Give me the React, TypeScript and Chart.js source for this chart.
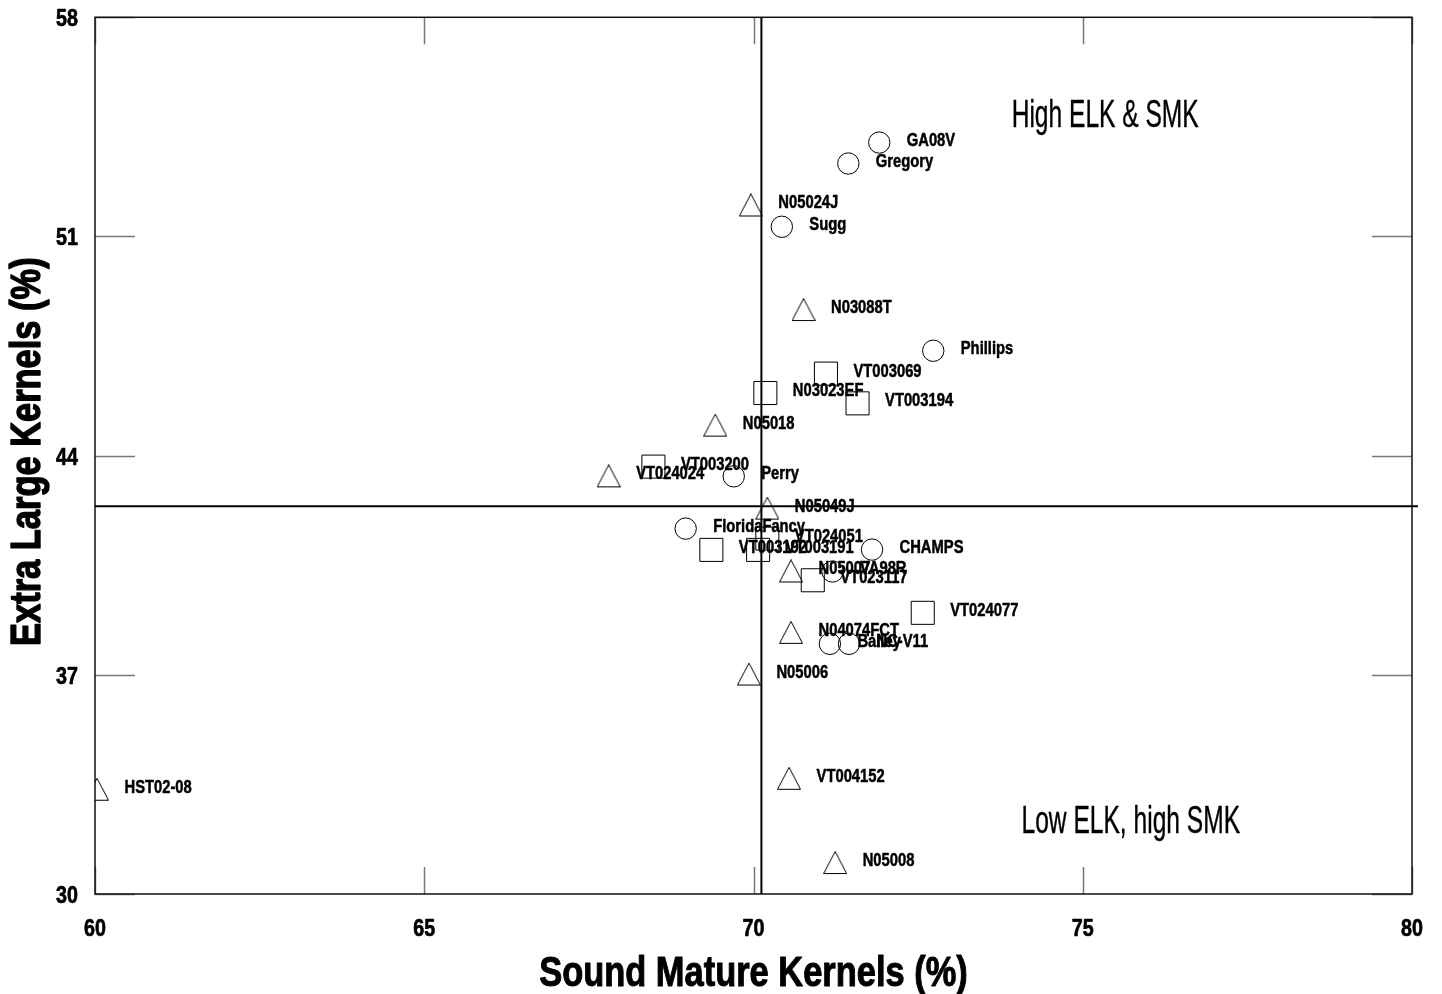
import React, { useEffect, useRef } from 'react';
import { Chart, registerables } from 'chart.js';
Chart.register(...registerables);

const FONT = "'Liberation Sans', Arial, sans-serif";
const NARROW = 0.82;

// Cultivars (circles)
const cultivarNames = ['GA08V', 'Gregory', 'Sugg', 'Phillips', 'Perry', 'FloridaFancy', 'CHAMPS', 'VA98R', 'Bailey', 'NC-V11'];
const cultivarSMK = [71.91, 71.44, 70.43, 72.73, 69.70, 68.97, 71.80, 71.20, 71.16, 71.45];
const cultivarELK = [54.00, 53.33, 51.31, 47.35, 43.34, 41.67, 41.00, 40.30, 37.99, 37.99];

// Virginia Tech lines (squares)
const vtNames = ['VT003069', 'N03023EF', 'VT003194', 'VT003200', 'VT024051', 'VT003192', 'VT003191', 'VT023117', 'VT024077'];
const vtSMK = [71.10, 70.18, 71.58, 68.48, 70.21, 69.36, 70.07, 70.90, 72.57];
const vtELK = [46.62, 46.00, 45.67, 43.65, 41.35, 40.99, 40.99, 40.02, 38.98];

// NC lines (triangles)
const ncNames = ['N05024J', 'N03088T', 'N05018', 'VT024024', 'N05049J', 'N05007', 'N04074FCT', 'N05006', 'VT004152', 'N05008', 'HST02-08'];
const ncSMK = [69.96, 70.76, 69.42, 67.80, 70.21, 70.57, 70.57, 69.93, 70.54, 71.24, 60.03];
const ncELK = [51.99, 48.65, 44.96, 43.34, 42.31, 40.30, 38.34, 37.01, 33.68, 30.99, 33.33];

const xTicks = [60, 65, 70, 75, 80];
const yTicks = [30, 37, 44, 51, 58];
const meanSMK = 70.12;
const meanELK = 42.38;
const meanLineSMKRange = [60, 80.09];
const quadrantLabels = ['High ELK & SMK', 'Low ELK, high SMK'];
const quadrantSMK = [73.92, 74.07];
const quadrantELK = [54.5, 31.96];

function toPoints(xs: number[], ys: number[]) {
  return xs.map((x, i) => ({ x, y: ys[i] }));
}

function makeTriangle(): HTMLCanvasElement {
  const w = 22;
  const h = 22;
  const c = document.createElement('canvas');
  c.width = w + 2;
  c.height = h + 2;
  const g = c.getContext('2d')!;
  g.strokeStyle = '#000';
  g.lineWidth = 1;
  g.beginPath();
  g.moveTo(0.5, h + 0.5);
  g.lineTo(w / 2 + 1, 0.5);
  g.lineTo(w + 1.5, h + 0.5);
  g.closePath();
  g.stroke();
  return c;
}

function drawText(
  ctx: CanvasRenderingContext2D,
  text: string,
  x: number,
  y: number,
  font: string,
  align: CanvasTextAlign,
  sx: number,
  rot = 0,
  heavy = 0,
) {
  ctx.save();
  ctx.translate(x, y);
  if (rot) ctx.rotate(rot);
  ctx.scale(sx, 1);
  ctx.font = font;
  ctx.textAlign = align;
  ctx.textBaseline = 'alphabetic';
  ctx.fillStyle = '#000';
  ctx.fillText(text, 0, 0);
  if (heavy > 0) {
    ctx.strokeStyle = '#000';
    ctx.lineWidth = heavy;
    ctx.lineJoin = 'round';
    ctx.strokeText(text, 0, 0);
  }
  ctx.restore();
}

const decorPlugin = {
  id: 'decor',
  beforeDatasetsDraw(chart: any) {
    const { ctx, chartArea } = chart;
    const { left, right, top, bottom } = chartArea;
    const xs = chart.scales.x;
    const ys = chart.scales.y;
    ctx.save();
    ctx.strokeStyle = '#777';
    ctx.lineWidth = 1.5;
    xTicks.forEach((v) => {
      const px = Math.round(xs.getPixelForValue(v)) + 0.5;
      ctx.beginPath();
      ctx.moveTo(px, bottom);
      ctx.lineTo(px, bottom - 27);
      ctx.moveTo(px, top);
      ctx.lineTo(px, top + 27);
      ctx.stroke();
    });
    yTicks.forEach((v) => {
      const py = Math.round(ys.getPixelForValue(v)) + 0.5;
      ctx.beginPath();
      ctx.moveTo(left, py);
      ctx.lineTo(left + 40, py);
      ctx.moveTo(right, py);
      ctx.lineTo(right - 40, py);
      ctx.stroke();
    });
    ctx.strokeStyle = '#111';
    ctx.lineWidth = 1.5;
    ctx.strokeRect(left, top, right - left, bottom - top);
    ctx.restore();
  },
  afterDatasetsDraw(chart: any) {
    const { ctx } = chart;
    const nameSets = [cultivarNames, vtNames, ncNames];
    nameSets.forEach((names, di) => {
      const meta = chart.getDatasetMeta(di);
      meta.data.forEach((el: any, i: number) => {
        drawText(ctx, names[i], el.x + 27.5, el.y + 3, `bold 18px ${FONT}`, 'left', NARROW, 0, 0.5);
      });
    });
  },
  afterDraw(chart: any) {
    const { chartArea, ctx } = chart;
    const { left, right, top, bottom } = chartArea;
    const xs = chart.scales.x;
    const ys = chart.scales.y;
    const tickFont = `bold 24px ${FONT}`;
    yTicks.forEach((v) => {
      drawText(ctx, String(v), left - 17, ys.getPixelForValue(v) + 9, tickFont, 'right', NARROW, 0, 0.7);
    });
    xTicks.forEach((v) => {
      drawText(ctx, String(v), xs.getPixelForValue(v), bottom + 42, tickFont, 'center', NARROW, 0, 0.7);
    });
    const titleFont = `bold 42px ${FONT}`;
    drawText(ctx, 'Sound Mature Kernels (%)', (left + right) / 2, bottom + 92, titleFont, 'center', NARROW, 0, 1);
    drawText(ctx, 'Extra Large Kernels (%)', left - 55, (top + bottom) / 2 - 4, titleFont, 'center', NARROW, -Math.PI / 2, 1.4);
    quadrantLabels.forEach((t, i) => {
      drawText(
        ctx,
        t,
        xs.getPixelForValue(quadrantSMK[i]),
        ys.getPixelForValue(quadrantELK[i]),
        `39px ${FONT}`,
        'left',
        0.63,
        0,
        0.4,
      );
    });
  },
};

export default function App() {
  const ref = useRef<HTMLCanvasElement>(null);
  useEffect(() => {
    document.body.style.margin = '0';
    const canvas = ref.current!;
    const tri = makeTriangle();
    const chart = new Chart(canvas, {
      type: 'scatter',
      data: {
        datasets: [
          {
            label: 'Cultivars',
            data: toPoints(cultivarSMK, cultivarELK),
            pointStyle: 'circle',
            pointRadius: 10.7,
            pointBorderWidth: 1,
            borderColor: '#000',
            backgroundColor: 'rgba(0,0,0,0)',
          },
          {
            label: 'VT lines',
            data: toPoints(vtSMK, vtELK),
            pointStyle: 'rect',
            pointRadius: 16.3,
            pointBorderWidth: 1,
            borderColor: '#000',
            backgroundColor: 'rgba(0,0,0,0)',
          },
          {
            label: 'NC lines',
            data: toPoints(ncSMK, ncELK),
            pointStyle: tri as any,
            pointRadius: 11,
            pointBorderWidth: 1,
            borderColor: '#000',
            backgroundColor: 'rgba(0,0,0,0)',
          },
          {
            label: 'Mean SMK',
            data: [
              { x: meanSMK, y: yTicks[0] },
              { x: meanSMK, y: yTicks[yTicks.length - 1] },
            ],
            showLine: true,
            pointRadius: 0,
            borderColor: '#000',
            borderWidth: 2,
            clip: false as any,
          },
          {
            label: 'Mean ELK',
            data: [
              { x: meanLineSMKRange[0], y: meanELK },
              { x: meanLineSMKRange[1], y: meanELK },
            ],
            showLine: true,
            pointRadius: 0,
            borderColor: '#000',
            borderWidth: 2,
            clip: false as any,
          },
        ],
      },
      options: {
        responsive: false,
        maintainAspectRatio: false,
        devicePixelRatio: 1,
        animation: false,
        layout: { padding: { left: 95, top: 17, right: 30, bottom: 100 } },
        plugins: {
          legend: { display: false },
          tooltip: { enabled: false },
        },
        scales: {
          x: { type: 'linear', min: xTicks[0], max: xTicks[xTicks.length - 1], display: false },
          y: { type: 'linear', min: yTicks[0], max: yTicks[yTicks.length - 1], display: false },
        },
      },
      plugins: [decorPlugin],
    });
    return () => chart.destroy();
  }, []);
  return (
    <div style={{ width: 1442, height: 994, background: '#fff' }}>
      <canvas ref={ref} width={1442} height={994} style={{ display: 'block', width: 1442, height: 994 }} />
    </div>
  );
}
